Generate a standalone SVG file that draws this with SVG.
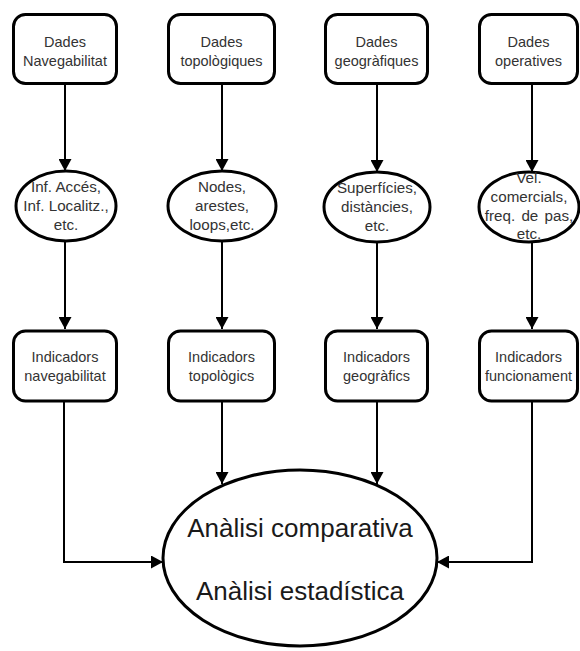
<svg xmlns="http://www.w3.org/2000/svg" width="580" height="651" viewBox="0 0 580 651">
<defs>
<marker id="arr" markerUnits="userSpaceOnUse" markerWidth="12" markerHeight="13" viewBox="0 0 12 13" refX="12" refY="6.5" orient="auto">
<path d="M0,0 L12,6.5 L0,13 z" fill="#000"/>
</marker>
<style>
.box{fill:#fff;stroke:#000;stroke-width:3}
.ell{fill:#fff;stroke:#000;stroke-width:3}
.t{font-family:"Liberation Sans",Arial,sans-serif;font-size:14.5px;fill:#333;text-anchor:middle}
.e{font-family:"Liberation Sans",Arial,sans-serif;font-size:15.2px;fill:#333;text-anchor:middle}
.big{font-family:"Liberation Sans",Arial,sans-serif;font-size:26px;fill:#1a1a1a;text-anchor:middle}
.c{fill:none;stroke:#000;stroke-width:2;marker-end:url(#arr)}
</style>
</defs>
<rect width="580" height="651" fill="#fff"/>
<g id="connectors">
<line class="c" x1="65" y1="84" x2="65" y2="171"/>
<line class="c" x1="222" y1="84" x2="222" y2="171"/>
<line class="c" x1="377" y1="84" x2="377" y2="172"/>
<line class="c" x1="532" y1="84" x2="532" y2="172"/>
<line class="c" x1="65" y1="241" x2="65" y2="329"/>
<line class="c" x1="222" y1="241" x2="222" y2="329"/>
<line class="c" x1="377" y1="242" x2="377" y2="329"/>
<line class="c" x1="532" y1="242" x2="532" y2="329"/>
<line class="c" x1="222" y1="402" x2="222" y2="484"/>
<line class="c" x1="377" y1="402" x2="377" y2="484"/>
<polyline class="c" points="64,402 64,562 163,562"/>
<polyline class="c" points="532,402 532,562 437,562"/>
</g>
<g id="dades-nav"><rect class="box" x="13.5" y="14.5" width="103" height="69" rx="12"/><text class="t" x="65" y="47">Dades</text><text class="t" x="65" y="66">Navegabilitat</text></g>
<g id="dades-top"><rect class="box" x="168.5" y="14.5" width="106" height="69" rx="12"/><text class="t" x="221.5" y="47">Dades</text><text class="t" x="221.5" y="66">topològiques</text></g>
<g id="dades-geo"><rect class="box" x="325.5" y="14.5" width="102" height="69" rx="12"/><text class="t" x="376.5" y="47">Dades</text><text class="t" x="376.5" y="66">geogràfiques</text></g>
<g id="dades-op"><rect class="box" x="479.5" y="14.5" width="98" height="69" rx="12"/><text class="t" x="528.5" y="47">Dades</text><text class="t" x="528.5" y="66">operatives</text></g>
<g id="inf"><ellipse class="ell" cx="66" cy="206" rx="50" ry="35"/><text class="e" x="66" y="192">Inf. Accés,</text><text class="e" x="66" y="211">Inf. Localitz.,</text><text class="e" x="66" y="230">etc.</text></g>
<g id="nodes"><ellipse class="ell" cx="222" cy="206" rx="54" ry="35"/><text class="e" x="222" y="192">Nodes,</text><text class="e" x="222" y="211">arestes,</text><text class="e" x="222" y="230">loops,etc.</text></g>
<g id="sup"><ellipse class="ell" cx="377" cy="207" rx="53" ry="35"/><text class="e" x="377" y="193">Superfícies,</text><text class="e" x="377" y="212">distàncies,</text><text class="e" x="377" y="231">etc.</text></g>
<g id="vel"><ellipse class="ell" cx="529" cy="207" rx="50" ry="35"/><text class="e" x="529" y="183">Vel.</text><text class="e" x="529" y="202">comercials,</text><text class="e" x="529" y="221" word-spacing="2">freq. de pas,</text><text class="e" x="529" y="239">etc.</text></g>
<g id="ind-nav"><rect class="box" x="13.5" y="331" width="103" height="70" rx="12"/><text class="t" x="65" y="362">Indicadors</text><text class="t" x="65" y="381">navegabilitat</text></g>
<g id="ind-top"><rect class="box" x="168.5" y="331" width="106" height="70" rx="12"/><text class="t" x="221.5" y="362">Indicadors</text><text class="t" x="221.5" y="381">topològics</text></g>
<g id="ind-geo"><rect class="box" x="325.5" y="331" width="102" height="70" rx="12"/><text class="t" x="376.5" y="362">Indicadors</text><text class="t" x="376.5" y="381">geogràfics</text></g>
<g id="ind-fun"><rect class="box" x="479.5" y="331" width="98" height="70" rx="12"/><text class="t" x="528.5" y="362">Indicadors</text><text class="t" x="528.5" y="381">funcionament</text></g>
<g id="analisi"><ellipse class="ell" cx="300" cy="558" rx="137" ry="88"/><text class="big" x="300" y="537">Anàlisi comparativa</text><text class="big" x="300" y="600">Anàlisi estadística</text></g>
</svg>
